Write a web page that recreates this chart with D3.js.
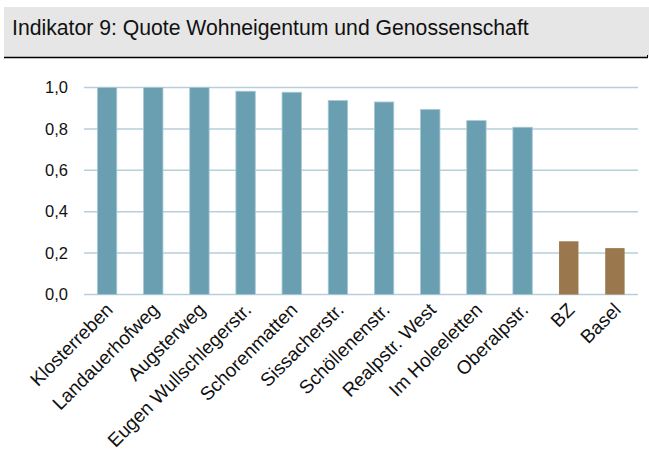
<!DOCTYPE html>
<html>
<head>
<meta charset="utf-8">
<script src="https://cdn.jsdelivr.net/npm/d3@7"></script>
<style>
  body { margin: 0; background: #fff; }
  text { font-family: "Liberation Sans", Arial, sans-serif; }
</style>
</head>
<body>
<div id="chart"></div>
<script>
// Indikator 9 data
var categories = ["Klosterreben", "Landauerhofweg", "Augsterweg", "Eugen Wullschlegerstr.",
    "Schorenmatten", "Sissacherstr.", "Schöllenenstr.", "Realpstr. West",
    "Im Holeeletten", "Oberalpstr.", "BZ", "Basel"];
var values = [1.0, 1.0, 1.0, 0.982, 0.977, 0.937, 0.930, 0.894, 0.840, 0.808, 0.257, 0.224];
var yTicks = [0, 0.2, 0.4, 0.6, 0.8, 1.0];
var title = "Indikator 9: Quote Wohneigentum und Genossenschaft";

var svgWidth = 649;
var svgHeight = 455;

var svg = d3.select("#chart")
    .append("svg")
        .attr("width", svgWidth)
        .attr("height", svgHeight);

// title box
svg.append("rect")
    .attr("x", 4).attr("y", 7)
    .attr("width", 645).attr("height", 50)
    .attr("fill", "#e6e6e6");

svg.append("text")
    .attr("x", 12).attr("y", 35)
    .attr("font-size", 21.2)
    .attr("fill", "#111")
    .text(title);

svg.append("line")
    .attr("x1", 4).attr("x2", 648)
    .attr("y1", 57.5).attr("y2", 57.5)
    .attr("stroke", "#000").attr("stroke-width", 1.5);
svg.append("line")
    .attr("x1", 647.5).attr("x2", 647.5)
    .attr("y1", 55).attr("y2", 58)
    .attr("stroke", "#000");

var xScale = d3.scaleBand()
    .domain(categories)
    .range([84, 638])
    .paddingInner(0.58)
    .paddingOuter(0.29);

var yScale = d3.scaleLinear()
    .domain([0, 1])
    .range([294.5, 87.5]);

// gridlines
svg.append("g")
    .selectAll("line")
    .data(yTicks)
    .enter()
    .append("line")
        .attr("x1", 84).attr("x2", 638)
        .attr("y1", d => yScale(d)).attr("y2", d => yScale(d))
        .attr("stroke", "#b7cfd9").attr("stroke-width", 1.5);

var yAxis = d3.axisLeft(yScale)
    .tickValues(yTicks)
    .tickSize(0)
    .tickPadding(16)
    .tickFormat(d => d3.format(".1f")(d).replace(".", ","));

var yG = svg.append("g")
    .attr("transform", "translate(84,0)")
    .call(yAxis);
yG.select(".domain").remove();
yG.selectAll("text")
    .attr("font-size", 16.5)
    .attr("fill", "#111");

// bars
svg.append("g")
    .selectAll("rect")
    .data(values)
    .enter()
    .append("rect")
        .attr("x", (d, i) => xScale(categories[i]))
        .attr("y", d => yScale(d))
        .attr("width", xScale.bandwidth())
        .attr("height", d => yScale(0) - yScale(d))
        .attr("fill", (d, i) => i >= 10 ? "#9a774c" : "#6a9fb2")
        .attr("stroke", (d, i) => i >= 10 ? "none" : "#a9c8d4")
        .attr("stroke-width", 0.8);

// x labels
svg.append("g")
    .selectAll("text")
    .data(categories)
    .enter()
    .append("text")
        .attr("transform", d => `translate(${xScale(d) + xScale.bandwidth() / 2 + 7}, 311) rotate(-45)`)
        .attr("text-anchor", "end")
        .attr("font-size", 19)
        .attr("fill", "#111")
        .text(d => d);
</script>
</body>
</html>
